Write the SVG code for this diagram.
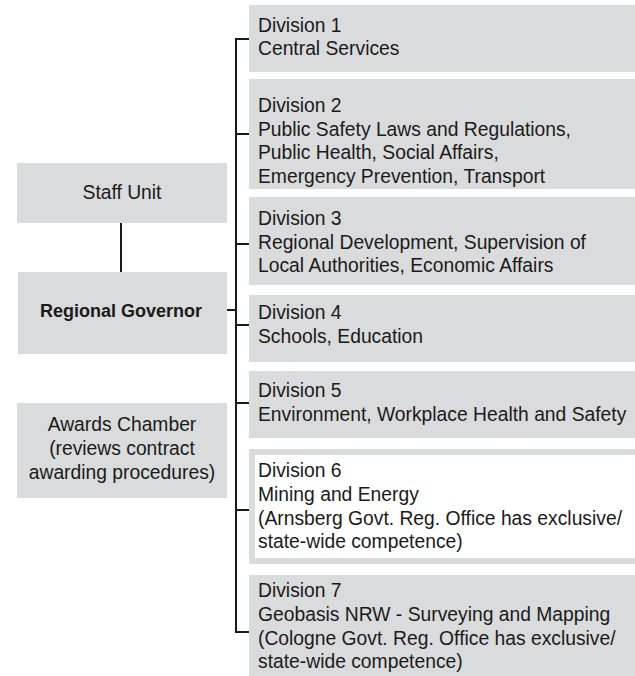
<svg xmlns="http://www.w3.org/2000/svg" width="635" height="676" viewBox="0 0 635 676">
<style>
.box{fill:#dadbdc}
.t{font-family:"Liberation Sans",Arial,sans-serif;font-size:19.3px;fill:#1a1a1a}
.c{text-anchor:middle}
.b{font-weight:bold;font-size:18px}
.ln{stroke:#1a1a1a;stroke-width:2;fill:none}
</style>
<rect width="635" height="676" fill="#fff"/>
<g id="connectors">
<path class="ln" d="M249,39 H236 V632 H249"/>
<path class="ln" d="M236,134 H249 M236,244 H249 M236,325 H249 M236,403 H249 M236,510 H249"/>
<path class="ln" d="M227,310 H236"/>
<path class="ln" d="M121,223 V272"/>
</g>
<g id="staff-unit">
<rect class="box" x="17" y="163" width="210" height="60"/>
<text class="t c" x="122" y="199">Staff Unit</text>
</g>
<g id="regional-governor">
<rect class="box" x="18" y="272" width="209" height="82"/>
<text class="t c b" x="121" y="317">Regional Governor</text>
</g>
<g id="awards-chamber">
<rect class="box" x="17" y="403" width="210" height="95"/>
<text class="t c" x="122" y="431">Awards Chamber</text>
<text class="t c" x="122" y="455">(reviews contract</text>
<text class="t c" x="122" y="479">awarding procedures)</text>
</g>
<g id="division-1">
<rect class="box" x="249" y="5" width="390" height="67"/>
<text class="t" x="258" y="32">Division 1</text>
<text class="t" x="258" y="55">Central Services</text>
</g>
<g id="division-2">
<rect class="box" x="249" y="79" width="390" height="110"/>
<text class="t" x="258" y="112">Division 2</text>
<text class="t" x="258" y="135.5">Public Safety Laws and Regulations,</text>
<text class="t" x="258" y="159">Public Health, Social Affairs,</text>
<text class="t" x="258" y="182.5">Emergency Prevention, Transport</text>
</g>
<g id="division-3">
<rect class="box" x="249" y="197" width="390" height="88"/>
<text class="t" x="258" y="225">Division 3</text>
<text class="t" x="258" y="248.5">Regional Development, Supervision of</text>
<text class="t" x="258" y="272">Local Authorities, Economic Affairs</text>
</g>
<g id="division-4">
<rect class="box" x="249" y="295" width="390" height="67"/>
<text class="t" x="258" y="319">Division 4</text>
<text class="t" x="258" y="343">Schools, Education</text>
</g>
<g id="division-5">
<rect class="box" x="249" y="371" width="390" height="67"/>
<text class="t" x="258" y="397">Division 5</text>
<text class="t" x="258" y="421">Environment, Workplace Health and Safety</text>
</g>
<g id="division-6">
<rect class="box" x="249" y="449" width="390" height="115"/>
<rect x="255" y="455" width="390" height="103" fill="#fff"/>
<text class="t" x="258" y="477">Division 6</text>
<text class="t" x="258" y="501">Mining and Energy</text>
<text class="t" x="258" y="525">(Arnsberg Govt. Reg. Office has exclusive/</text>
<text class="t" x="258" y="548">state-wide competence)</text>
</g>
<g id="division-7">
<rect class="box" x="249" y="575" width="390" height="105"/>
<text class="t" x="258" y="597">Division 7</text>
<text class="t" x="258" y="621">Geobasis NRW - Surveying and Mapping</text>
<text class="t" x="258" y="645">(Cologne Govt. Reg. Office has exclusive/</text>
<text class="t" x="258" y="668">state-wide competence)</text>
</g>
</svg>
